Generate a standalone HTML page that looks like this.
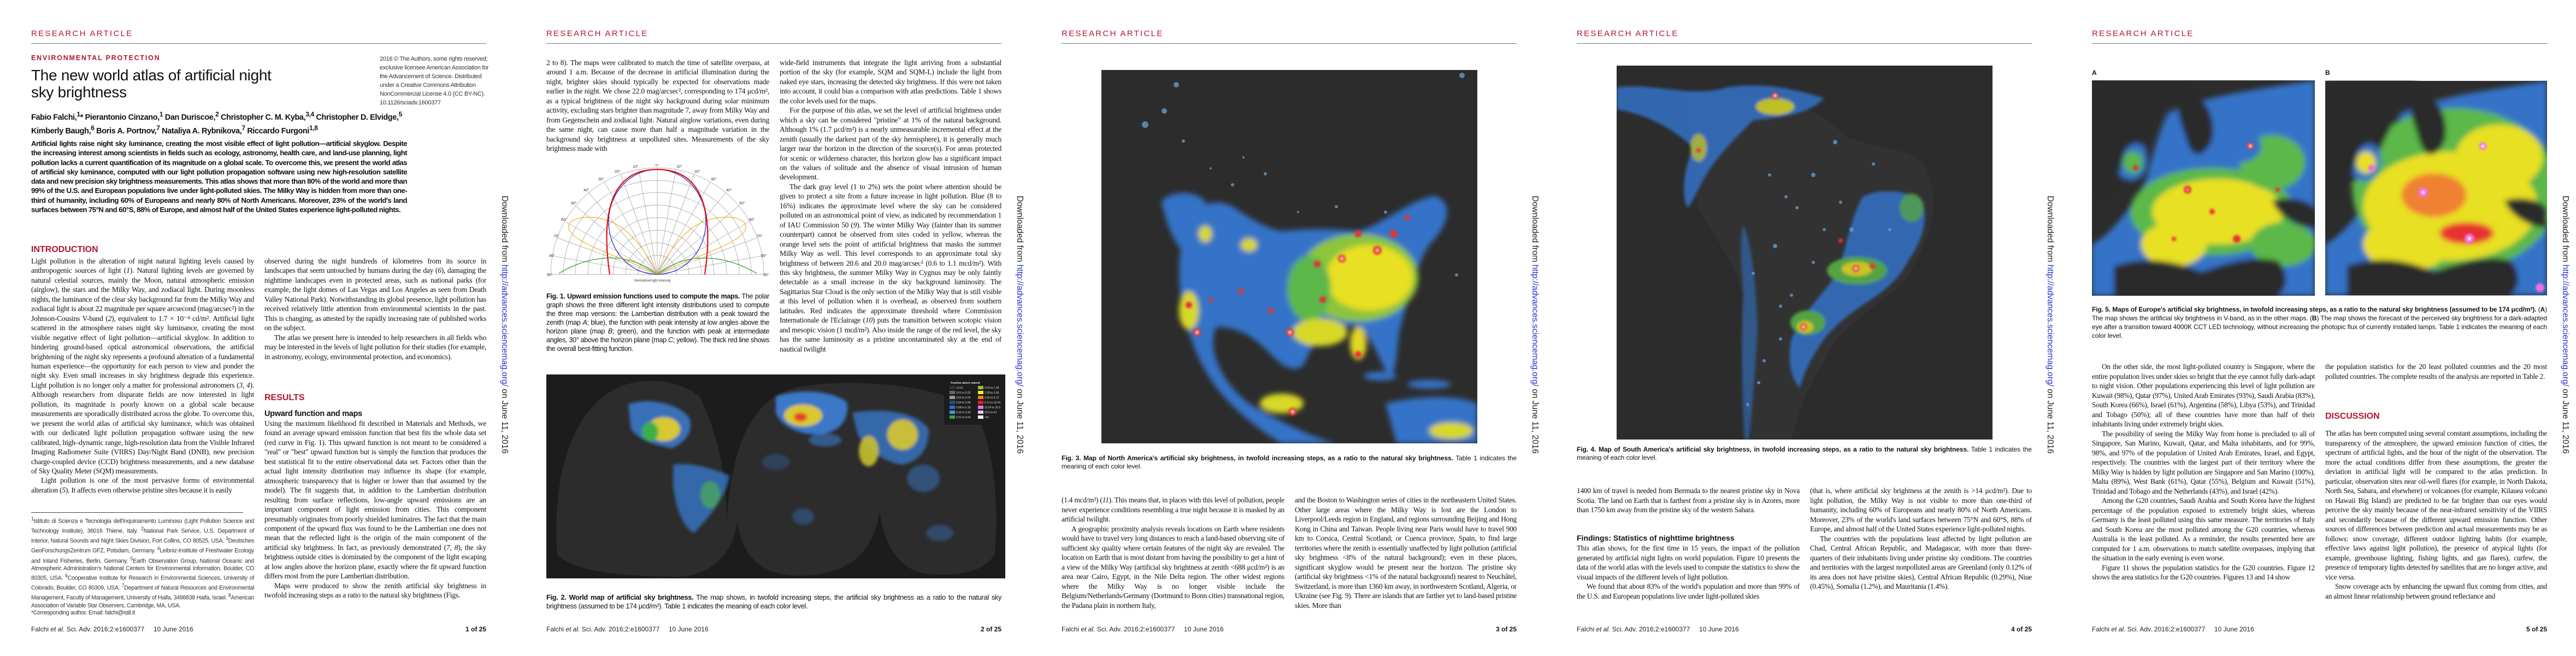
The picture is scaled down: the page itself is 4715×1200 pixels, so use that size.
<!DOCTYPE html>
<html><head><meta charset="utf-8">
<style>
*{margin:0;padding:0;box-sizing:border-box}
body{width:4715px;height:1200px;background:#fff;position:relative;overflow:hidden;font-family:"Liberation Serif",serif;color:#111}
.pg{position:absolute;top:0;width:943px;height:1200px;background:#fff;overflow:hidden}
.hdr{position:absolute;left:57px;top:53px;font:15px "Liberation Sans",sans-serif;letter-spacing:2.3px;color:#b3152f}
.rule{position:absolute;left:57px;top:79px;width:833px;height:1px;background:#777}
.foot{position:absolute;left:57px;top:1144px;font:12px "Liberation Sans",sans-serif;color:#222}
.pn{position:absolute;left:790px;width:100px;text-align:right;top:1144px;font:bold 12px "Liberation Sans",sans-serif}
.dl{position:absolute;left:914px;top:358px;writing-mode:vertical-rl;font:15.5px "Liberation Sans",sans-serif;color:#222;white-space:nowrap}
.dl span{color:#2233cc}
.col{position:absolute;overflow:hidden;text-align:justify;font-size:13.6px;line-height:17.45px;letter-spacing:-0.25px}
.col p{text-indent:0}
.col p+p{text-indent:18px}
.sec{color:#b3152f;font:bold 16px "Liberation Sans",sans-serif;position:absolute}
.cap{position:absolute;font:12px/15px "Liberation Sans",sans-serif;text-align:justify}
.cap b{font-weight:bold}
</style></head><body>

<!-- ================= PAGE 1 ================= -->
<div class="pg" style="left:0">
<div class="hdr">RESEARCH ARTICLE</div><div class="rule"></div>
<div style="position:absolute;left:57px;top:99px;font:bold 12.5px 'Liberation Sans',sans-serif;letter-spacing:1.8px;color:#b3152f">ENVIRONMENTAL PROTECTION</div>
<div style="position:absolute;left:57px;top:122px;font:28px/31px 'Liberation Sans',sans-serif;color:#111;letter-spacing:-0.3px">The new world atlas of artificial night<br>sky brightness</div>
<div style="position:absolute;left:695px;top:100px;font:11px/16px 'Liberation Sans',sans-serif;color:#333;letter-spacing:-0.3px">2016 © The Authors, some rights reserved;<br>exclusive licensee American Association for<br>the Advancement of Science. Distributed<br>under a Creative Commons Attribution<br>NonCommercial License 4.0 (CC BY-NC).<br>10.1126/sciadv.1600377</div>
<div style="position:absolute;left:57px;top:200px;width:780px;font:bold 14.5px/19px 'Liberation Sans',sans-serif;letter-spacing:-0.4px">Fabio Falchi,<sup>1</sup>* Pierantonio Cinzano,<sup>1</sup> Dan Duriscoe,<sup>2</sup> Christopher C. M. Kyba,<sup>3,4</sup> Christopher D. Elvidge,<sup>5</sup><br>Kimberly Baugh,<sup>6</sup> Boris A. Portnov,<sup>7</sup> Nataliya A. Rybnikova,<sup>7</sup> Riccardo Furgoni<sup>1,8</sup></div>
<div style="position:absolute;left:57px;top:254px;width:688px;font:bold 13.2px/17.3px 'Liberation Sans',sans-serif;letter-spacing:-0.55px;text-align:justify">Artificial lights raise night sky luminance, creating the most visible effect of light pollution—artificial skyglow. Despite the increasing interest among scientists in fields such as ecology, astronomy, health care, and land-use planning, light pollution lacks a current quantification of its magnitude on a global scale. To overcome this, we present the world atlas of artificial sky luminance, computed with our light pollution propagation software using new high-resolution satellite data and new precision sky brightness measurements. This atlas shows that more than 80% of the world and more than 99% of the U.S. and European populations live under light-polluted skies. The Milky Way is hidden from more than one-third of humanity, including 60% of Europeans and nearly 80% of North Americans. Moreover, 23% of the world's land surfaces between 75°N and 60°S, 88% of Europe, and almost half of the United States experience light-polluted nights.</div>
<div class="sec" style="left:57px;top:448px">INTRODUCTION</div>
<div class="col" style="left:57px;top:469px;width:408px;height:455px"><p>Light pollution is the alteration of night natural lighting levels caused by anthropogenic sources of light (<i>1</i>). Natural lighting levels are governed by natural celestial sources, mainly the Moon, natural atmospheric emission (airglow), the stars and the Milky Way, and zodiacal light. During moonless nights, the luminance of the clear sky background far from the Milky Way and zodiacal light is about 22 magnitude per square arcsecond (mag/arcsec²) in the Johnson-Cousins V-band (<i>2</i>), equivalent to 1.7 × 10⁻⁴ cd/m². Artificial light scattered in the atmosphere raises night sky luminance, creating the most visible negative effect of light pollution—artificial skyglow. In addition to hindering ground-based optical astronomical observations, the artificial brightening of the night sky represents a profound alteration of a fundamental human experience—the opportunity for each person to view and ponder the night sky. Even small increases in sky brightness degrade this experience. Light pollution is no longer only a matter for professional astronomers (<i>3</i>, <i>4</i>). Although researchers from disparate fields are now interested in light pollution, its magnitude is poorly known on a global scale because measurements are sporadically distributed across the globe. To overcome this, we present the world atlas of artificial sky luminance, which was obtained with our dedicated light pollution propagation software using the new calibrated, high–dynamic range, high-resolution data from the Visible Infrared Imaging Radiometer Suite (VIIRS) Day/Night Band (DNB), new precision charge-coupled device (CCD) brightness measurements, and a new database of Sky Quality Meter (SQM) measurements.</p><p>Light pollution is one of the most pervasive forms of environmental alteration (<i>5</i>). It affects even otherwise pristine sites because it is easily</p></div>
<div style="position:absolute;left:57px;top:937px;width:388px;height:1px;background:#444"></div>
<div style="position:absolute;left:57px;top:943px;width:408px;font:10.6px/13.6px 'Liberation Sans',sans-serif;color:#333;text-align:justify;letter-spacing:-0.3px"><sup>1</sup>Istituto di Scienza e Tecnologia dell'Inquinamento Luminoso (Light Pollution Science and Technology Institute), 36016 Thiene, Italy. <sup>2</sup>National Park Service, U.S. Department of Interior, Natural Sounds and Night Skies Division, Fort Collins, CO 80525, USA. <sup>3</sup>Deutsches GeoForschungsZentrum GFZ, Potsdam, Germany. <sup>4</sup>Leibniz-Institute of Freshwater Ecology and Inland Fisheries, Berlin, Germany. <sup>5</sup>Earth Observation Group, National Oceanic and Atmospheric Administration's National Centers for Environmental Information, Boulder, CO 80305, USA. <sup>6</sup>Cooperative Institute for Research in Environmental Sciences, University of Colorado, Boulder, CO 80309, USA. <sup>7</sup>Department of Natural Resources and Environmental Management, Faculty of Management, University of Haifa, 3498838 Haifa, Israel. <sup>8</sup>American Association of Variable Star Observers, Cambridge, MA, USA.<br>*Corresponding author. Email: falchi@istil.it</div>
<div class="col" style="left:484px;top:469px;width:406px;height:210px"><p>observed during the night hundreds of kilometres from its source in landscapes that seem untouched by humans during the day (<i>6</i>), damaging the nighttime landscapes even in protected areas, such as national parks (for example, the light domes of Las Vegas and Los Angeles as seen from Death Valley National Park). Notwithstanding its global presence, light pollution has received relatively little attention from environmental scientists in the past. This is changing, as attested by the rapidly increasing rate of published works on the subject.</p><p>The atlas we present here is intended to help researchers in all fields who may be interested in the levels of light pollution for their studies (for example, in astronomy, ecology, environmental protection, and economics).</p></div>
<div class="sec" style="left:484px;top:719px">RESULTS</div>
<div style="position:absolute;left:484px;top:749px;font:bold 14.5px 'Liberation Sans',sans-serif;letter-spacing:-0.3px">Upward function and maps</div>
<div class="col" style="left:484px;top:766px;width:406px;height:350px"><p>Using the maximum likelihood fit described in Materials and Methods, we found an average upward emission function that best fits the whole data set (red curve in Fig. 1). This upward function is not meant to be considered a "real" or "best" upward function but is simply the function that produces the best statistical fit to the entire observational data set. Factors other than the actual light intensity distribution may influence its shape (for example, atmospheric transparency that is higher or lower than that assumed by the model). The fit suggests that, in addition to the Lambertian distribution resulting from surface reflections, low-angle upward emissions are an important component of light emission from cities. This component presumably originates from poorly shielded luminaires. The fact that the main component of the upward flux was found to be the Lambertian one does not mean that the reflected light is the origin of the main component of the artificial sky brightness. In fact, as previously demonstrated (<i>7</i>, <i>8</i>), the sky brightness outside cities is dominated by the component of the light escaping at low angles above the horizon plane, exactly where the fit upward function differs most from the pure Lambertian distribution.</p><p>Maps were produced to show the zenith artificial sky brightness in twofold increasing steps as a ratio to the natural sky brightness (Figs.</p></div>
<div class="foot">Falchi <i>et al.</i> Sci. Adv. 2016;2:e1600377 &nbsp;&nbsp;&nbsp;&nbsp;10 June 2016</div><div class="pn">1 of 25</div>
<div class="dl">Downloaded from <span>http://advances.sciencemag.org/</span> on June 11, 2016</div>
</div>

<!-- ================= PAGE 2 ================= -->
<div class="pg" style="left:943px">
<div class="hdr">RESEARCH ARTICLE</div><div class="rule"></div>
<div class="col" style="left:57px;top:106px;width:408px;height:175px"><p>2 to 8). The maps were calibrated to match the time of satellite overpass, at around 1 a.m. Because of the decrease in artificial illumination during the night, brighter skies should typically be expected for observations made earlier in the night. We chose 22.0 mag/arcsec², corresponding to 174 μcd/m², as a typical brightness of the night sky background during solar minimum activity, excluding stars brighter than magnitude 7, away from Milky Way and from Gegenschein and zodiacal light. Natural airglow variations, even during the same night, can cause more than half a magnitude variation in the background sky brightness at unpolluted sites. Measurements of the sky brightness made with</p></div>
<svg style="position:absolute;left:50px;top:300px" width="420" height="225" viewBox="50 300 420 225">
<g fill="none" stroke="#999" stroke-width="0.7">
<path d="M65,502 A195,195 0 0 1 455,502"/><path d="M88,502 A172,172 0 0 1 432,502"/><path d="M110,502 A150,150 0 0 1 410,502"/><path d="M133,502 A127,127 0 0 1 387,502"/><path d="M156,502 A104,104 0 0 1 364,502"/><path d="M179,502 A81,81 0 0 1 341,502"/><path d="M202,502 A58,58 0 0 1 318,502"/><path d="M225,502 A35,35 0 0 1 295,502"/>
<line x1="65" y1="502" x2="455" y2="502"/>
<g><line x1="260" y1="502" x2="260" y2="307"/><line x1="260" y1="502" x2="226" y2="310"/><line x1="260" y1="502" x2="193" y2="319"/><line x1="260" y1="502" x2="163" y2="333"/><line x1="260" y1="502" x2="135" y2="353"/><line x1="260" y1="502" x2="111" y2="377"/><line x1="260" y1="502" x2="91" y2="405"/><line x1="260" y1="502" x2="77" y2="435"/><line x1="260" y1="502" x2="68" y2="468"/><line x1="260" y1="502" x2="294" y2="310"/><line x1="260" y1="502" x2="327" y2="319"/><line x1="260" y1="502" x2="357" y2="333"/><line x1="260" y1="502" x2="385" y2="353"/><line x1="260" y1="502" x2="409" y2="377"/><line x1="260" y1="502" x2="429" y2="405"/><line x1="260" y1="502" x2="443" y2="435"/><line x1="260" y1="502" x2="452" y2="468"/></g>
</g>
<g font-family="Liberation Sans" font-size="7" fill="#333"><text x="257" y="304">0°</text><text x="215" y="307">10°</text><text x="295" y="307">10°</text><text x="182" y="316">20°</text><text x="328" y="316">20°</text><text x="152" y="330">30°</text><text x="358" y="330">30°</text><text x="125" y="350">40°</text><text x="386" y="350">40°</text><text x="102" y="374">50°</text><text x="410" y="374">50°</text><text x="84" y="404">60°</text><text x="428" y="404">60°</text><text x="70" y="434">70°</text><text x="442" y="434">70°</text><text x="62" y="470">80°</text><text x="450" y="470">80°</text><text x="58" y="505">90°</text><text x="454" y="505">90°</text><text x="218" y="515" font-size="6">Normalized light intensity</text></g>
<path d="M80,500 C130,470 200,455 260,502 C320,455 390,470 442,500" fill="none" stroke="#2aa02a" stroke-width="1.2"/>
<path d="M260,502 C200,470 80,440 100,408 C115,390 170,395 200,420 C230,445 250,480 260,502 C270,480 290,445 320,420 C350,395 405,390 420,408 C440,440 320,470 260,502" fill="none" stroke="#f0b020" stroke-width="1.2"/>
<ellipse cx="260" cy="406" rx="89" ry="96" fill="none" stroke="#1a1acc" stroke-width="1.2"/>
<path d="M173,502 C158,400 170,310 260,310 C350,310 362,400 347,502" fill="none" stroke="#e01010" stroke-width="2.2"/>
</svg>
<div class="cap" style="left:57px;top:534px;width:408px;font-size:12.6px;line-height:16px;letter-spacing:-0.35px"><b>Fig. 1. Upward emission functions used to compute the maps.</b> The polar graph shows the three different light intensity distributions used to compute the three map versions: the Lambertian distribution with a peak toward the zenith (map <i>A</i>; blue), the function with peak intensity at low angles above the horizon plane (map <i>B</i>; green), and the function with peak at intermediate angles, 30° above the horizon plane (map <i>C</i>; yellow). The thick red line shows the overall best-fitting function.</div>
<div class="col" style="left:484px;top:106px;width:406px;height:540px"><p>wide-field instruments that integrate the light arriving from a substantial portion of the sky (for example, SQM and SQM-L) include the light from naked eye stars, increasing the detected sky brightness. If this were not taken into account, it could bias a comparison with atlas predictions. Table 1 shows the color levels used for the maps.</p><p>For the purpose of this atlas, we set the level of artificial brightness under which a sky can be considered "pristine" at 1% of the natural background. Although 1% (1.7 μcd/m²) is a nearly unmeasurable incremental effect at the zenith (usually the darkest part of the sky hemisphere), it is generally much larger near the horizon in the direction of the source(s). For areas protected for scenic or wilderness character, this horizon glow has a significant impact on the values of solitude and the absence of visual intrusion of human development.</p><p>The dark gray level (1 to 2%) sets the point where attention should be given to protect a site from a future increase in light pollution. Blue (8 to 16%) indicates the approximate level where the sky can be considered polluted on an astronomical point of view, as indicated by recommendation 1 of IAU Commission 50 (<i>9</i>). The winter Milky Way (fainter than its summer counterpart) cannot be observed from sites coded in yellow, whereas the orange level sets the point of artificial brightness that masks the summer Milky Way as well. This level corresponds to an approximate total sky brightness of between 20.6 and 20.0 mag/arcsec² (0.6 to 1.1 mcd/m²). With this sky brightness, the summer Milky Way in Cygnus may be only faintly detectable as a small increase in the sky background luminosity. The Sagittarius Star Cloud is the only section of the Milky Way that is still visible at this level of pollution when it is overhead, as observed from southern latitudes. Red indicates the approximate threshold where Commission Internationale de l'Eclairage (<i>10</i>) puts the transition between scotopic vision and mesopic vision (1 mcd/m²). Also inside the range of the red level, the sky has the same luminosity as a pristine uncontaminated sky at the end of nautical twilight</p></div>
<svg style="position:absolute;left:57px;top:685px" width="840" height="373" viewBox="0 0 840 373">
<defs><filter id="b2" x="-20%" y="-20%" width="140%" height="140%"><feGaussianBlur stdDeviation="3"/></filter></defs>
<rect width="840" height="373" fill="#1c1c1c"/>
<path d="M20,330 C10,200 40,60 140,20 C190,5 240,10 280,40 C320,120 330,200 330,270 C340,120 380,30 480,20 C560,10 700,15 780,60 C820,120 830,250 820,330 C800,360 760,370 700,365 C650,360 620,320 610,250 C600,320 560,365 470,368 C400,370 360,340 350,270 C340,330 300,372 230,370 C150,368 60,365 20,330 Z" fill="#2c2c2c"/>
<g filter="url(#b2)">
<path d="M150,55 C190,40 245,55 262,80 C270,110 250,125 230,135 C200,130 170,120 155,100 Z" fill="#3a78c8" opacity="0.9"/>
<ellipse cx="215" cy="100" rx="30" ry="22" fill="#d8c830"/>
<ellipse cx="190" cy="105" rx="15" ry="18" fill="#3cae4c"/>
<path d="M232,165 C260,160 300,170 335,185 C330,220 300,260 270,290 C250,280 235,240 232,200 Z" fill="#3a78c8" opacity="0.8"/>
<ellipse cx="300" cy="220" rx="18" ry="25" fill="#4caf50" opacity="0.7"/>
<path d="M420,40 C470,25 520,30 550,50 C555,80 540,105 500,110 C460,110 430,95 420,70 Z" fill="#3a78c8"/>
<ellipse cx="470" cy="75" rx="35" ry="20" fill="#d8c830"/>
<ellipse cx="465" cy="78" rx="12" ry="8" fill="#e84020"/>
<path d="M560,70 C620,60 680,70 700,100 C700,140 680,160 650,165 C620,160 590,140 570,110 Z" fill="#3a78c8" opacity="0.8"/>
<ellipse cx="652" cy="110" rx="28" ry="28" fill="#d8c830" opacity="0.9"/>
<ellipse cx="590" cy="140" rx="18" ry="28" fill="#c8c030" opacity="0.9"/>
<ellipse cx="510" cy="120" rx="30" ry="12" fill="#3a78c8" opacity="0.6"/>
<ellipse cx="690" cy="190" rx="30" ry="25" fill="#3a78c8" opacity="0.5"/>
<ellipse cx="720" cy="290" rx="25" ry="15" fill="#3a78c8" opacity="0.4"/>
<ellipse cx="470" cy="260" rx="20" ry="15" fill="#3a78c8" opacity="0.4"/>
<ellipse cx="420" cy="160" rx="25" ry="15" fill="#3a78c8" opacity="0.3"/>
</g>
<rect x="728" y="10" width="110" height="82" fill="#1c1c1c"/>
<g font-family="Liberation Sans" font-size="5" fill="#ddd"><text x="740" y="17" font-weight="bold">Fraction above natural</text>
<rect x="738" y="21" width="10" height="6" fill="#333"/><rect x="738" y="30" width="10" height="6" fill="#666"/><rect x="738" y="39" width="10" height="6" fill="#999"/><rect x="738" y="48" width="10" height="6" fill="#2a4f8a"/><rect x="738" y="57" width="10" height="6" fill="#2f6fd0"/><rect x="738" y="66" width="10" height="6" fill="#28a0e8"/><rect x="738" y="75" width="10" height="6" fill="#3fa040"/>
<rect x="790" y="21" width="10" height="6" fill="#a8b830"/><rect x="790" y="30" width="10" height="6" fill="#f0f020"/><rect x="790" y="39" width="10" height="6" fill="#f08030"/><rect x="790" y="48" width="10" height="6" fill="#e82020"/><rect x="790" y="57" width="10" height="6" fill="#f070f0"/><rect x="790" y="66" width="10" height="6" fill="#f0c0f0"/><rect x="790" y="75" width="10" height="6" fill="#fff"/>
<text x="750" y="26">&lt;0.01</text><text x="750" y="35">0.01 to 0.02</text><text x="750" y="44">0.02 to 0.04</text><text x="750" y="53">0.04 to 0.08</text><text x="750" y="62">0.08 to 0.16</text><text x="750" y="71">0.16 to 0.32</text><text x="750" y="80">0.32 to 0.64</text>
<text x="802" y="26">0.64 to 1.28</text><text x="802" y="35">1.28 to 2.56</text><text x="802" y="44">2.56 to 5.12</text><text x="802" y="53">5.12 to 10.24</text><text x="802" y="62">10.24 to 20.5</text><text x="802" y="71">20.5 to 41</text><text x="802" y="80">&gt;41</text></g>
</svg>
<div class="cap" style="left:57px;top:1085px;width:833px;font-size:12.8px;line-height:16px;letter-spacing:-0.35px"><b>Fig. 2. World map of artificial sky brightness.</b> The map shows, in twofold increasing steps, the artificial sky brightness as a ratio to the natural sky brightness (assumed to be 174 μcd/m²). Table 1 indicates the meaning of each color level.</div>
<div class="foot">Falchi <i>et al.</i> Sci. Adv. 2016;2:e1600377 &nbsp;&nbsp;&nbsp;&nbsp;10 June 2016</div><div class="pn">2 of 25</div>
<div class="dl">Downloaded from <span>http://advances.sciencemag.org/</span> on June 11, 2016</div>
</div>

<!-- ================= PAGE 3 ================= -->
<div class="pg" style="left:1886px">
<div class="hdr">RESEARCH ARTICLE</div><div class="rule"></div>
<svg style="position:absolute;left:130px;top:128px" width="688" height="683" viewBox="0 0 688 683">
<defs><filter id="b3" x="-20%" y="-20%" width="140%" height="140%"><feGaussianBlur stdDeviation="5"/></filter><filter id="b3s"><feGaussianBlur stdDeviation="2"/></filter></defs>
<rect width="688" height="683" fill="#2c2c2c"/>
<g fill="#6fa8d8" opacity="0.7"><circle cx="137" cy="27" r="5"/><circle cx="115" cy="75" r="5"/><circle cx="80" cy="100" r="6"/><circle cx="150" cy="130" r="3"/><circle cx="240" cy="210" r="3"/><circle cx="300" cy="190" r="3"/><circle cx="360" cy="260" r="2"/><circle cx="430" cy="250" r="3"/><circle cx="520" cy="260" r="3"/><circle cx="600" cy="245" r="3"/><circle cx="650" cy="375" r="3"/><circle cx="660" cy="10" r="5"/><circle cx="200" cy="180" r="2"/><circle cx="260" cy="160" r="2"/></g>
<g filter="url(#b3)">
<path d="M150,300 C170,250 200,230 240,250 C270,270 300,290 330,295 C380,290 420,290 470,295 C520,280 560,240 610,230 C650,245 630,290 600,320 C575,360 560,420 545,480 C540,520 540,560 525,560 C505,520 490,480 470,470 C420,460 390,490 370,540 C345,560 320,530 300,510 C270,480 240,470 210,470 C190,520 230,580 270,610 C320,640 380,670 430,683 L330,683 C290,660 240,620 210,580 C180,540 160,490 150,440 C140,400 140,340 150,300 Z" fill="#3573c8"/>
<path d="M110,240 C130,220 170,220 190,240 C200,280 180,320 160,340 C140,330 120,290 110,240 Z" fill="#3573c8"/>
<path d="M520,610 C560,600 640,590 688,610 L688,683 L540,683 Z" fill="#3573c8"/>
<ellipse cx="600" cy="575" rx="40" ry="8" fill="#3573c8"/><ellipse cx="510" cy="560" rx="30" ry="8" fill="#3573c8"/>
<ellipse cx="470" cy="380" rx="110" ry="80" fill="#8cc43a"/>
<ellipse cx="490" cy="380" rx="80" ry="60" fill="#e8e020"/>
<ellipse cx="380" cy="400" rx="40" ry="60" fill="#5cb848"/>
<ellipse cx="400" cy="480" rx="50" ry="25" fill="#d8d828"/>
<ellipse cx="470" cy="500" rx="15" ry="30" fill="#e0d828"/>
<ellipse cx="160" cy="440" rx="18" ry="35" fill="#d8d828"/>
<ellipse cx="190" cy="300" rx="12" ry="15" fill="#d8d828"/>
<ellipse cx="270" cy="320" rx="15" ry="12" fill="#d8d828"/>
<ellipse cx="330" cy="610" rx="40" ry="18" fill="#d8d828"/>
<ellipse cx="640" cy="660" rx="40" ry="15" fill="#d8d828"/>
</g>
<g filter="url(#b3s)" fill="#e83030"><circle cx="505" cy="330" r="8"/><circle cx="535" cy="300" r="7"/><circle cx="440" cy="345" r="7"/><circle cx="395" cy="355" r="6"/><circle cx="345" cy="480" r="7"/><circle cx="470" cy="520" r="6"/><circle cx="160" cy="430" r="6"/><circle cx="175" cy="480" r="7"/><circle cx="405" cy="420" r="6"/><circle cx="560" cy="270" r="5"/><circle cx="470" cy="300" r="6"/><circle cx="350" cy="625" r="7"/><circle cx="310" cy="440" r="5"/><circle cx="255" cy="405" r="5"/><circle cx="200" cy="420" r="4"/></g>
<g fill="#fff" filter="url(#b3s)"><circle cx="505" cy="330" r="3"/><circle cx="440" cy="345" r="3"/><circle cx="175" cy="480" r="3"/><circle cx="345" cy="480" r="3"/><circle cx="350" cy="625" r="3"/></g>
</svg>
<div class="cap" style="left:57px;top:831px;width:833px;letter-spacing:-0.1px"><b>Fig. 3. Map of North America's artificial sky brightness, in twofold increasing steps, as a ratio to the natural sky brightness.</b> Table 1 indicates the meaning of each color level.</div>
<div class="col" style="left:57px;top:906px;width:408px;height:210px;font-size:13.4px;line-height:17.5px"><p>(1.4 mcd/m²) (<i>11</i>). This means that, in places with this level of pollution, people never experience conditions resembling a true night because it is masked by an artificial twilight.</p><p>A geographic proximity analysis reveals locations on Earth where residents would have to travel very long distances to reach a land-based observing site of sufficient sky quality where certain features of the night sky are revealed. The location on Earth that is most distant from having the possibility to get a hint of a view of the Milky Way (artificial sky brightness at zenith &lt;688 μcd/m²) is an area near Cairo, Egypt, in the Nile Delta region. The other widest regions where the Milky Way is no longer visible include the Belgium/Netherlands/Germany (Dortmund to Bonn cities) transnational region, the Padana plain in northern Italy,</p></div>
<div class="col" style="left:484px;top:906px;width:406px;height:210px;font-size:13.4px;line-height:17.5px"><p>and the Boston to Washington series of cities in the northeastern United States. Other large areas where the Milky Way is lost are the London to Liverpool/Leeds region in England, and regions surrounding Beijing and Hong Kong in China and Taiwan. People living near Paris would have to travel 900 km to Corsica, Central Scotland, or Cuenca province, Spain, to find large territories where the zenith is essentially unaffected by light pollution (artificial sky brightness &lt;8% of the natural background); even in these places, significant skyglow would be present near the horizon. The pristine sky (artificial sky brightness &lt;1% of the natural background) nearest to Neuchâtel, Switzerland, is more than 1360 km away, in northwestern Scotland, Algeria, or Ukraine (see Fig. 9). There are islands that are farther yet to land-based pristine skies. More than</p></div>
<div class="foot">Falchi <i>et al.</i> Sci. Adv. 2016;2:e1600377 &nbsp;&nbsp;&nbsp;&nbsp;10 June 2016</div><div class="pn">3 of 25</div>
<div class="dl">Downloaded from <span>http://advances.sciencemag.org/</span> on June 11, 2016</div>
</div>

<!-- ================= PAGE 4 ================= -->
<div class="pg" style="left:2829px">
<div class="hdr">RESEARCH ARTICLE</div><div class="rule"></div>
<svg style="position:absolute;left:130px;top:120px" width="688" height="684" viewBox="0 0 688 684">
<defs><filter id="b4" x="-20%" y="-20%" width="140%" height="140%"><feGaussianBlur stdDeviation="3"/></filter><filter id="b4s"><feGaussianBlur stdDeviation="2"/></filter></defs>
<rect width="688" height="684" fill="#2c2c2c"/>
<path d="M130,50 C250,40 350,60 420,130 C500,160 560,150 570,200 C600,260 560,340 530,390 C480,440 420,470 390,520 C370,560 340,600 320,684 L250,684 C230,600 225,500 230,420 C220,360 180,320 150,260 C130,200 140,120 130,50 Z" fill="#323232"/>
<g filter="url(#b4)" opacity="0.85">
<path d="M0,40 C60,30 140,60 200,40 C260,30 320,40 380,60 C350,90 300,95 250,100 C220,130 190,160 170,190 C150,220 140,250 130,260 C118,240 122,190 140,150 C110,120 60,90 0,80 Z" fill="#3573c8"/>
<ellipse cx="290" cy="75" rx="35" ry="15" fill="#d8d828"/><ellipse cx="150" cy="150" rx="15" ry="25" fill="#d8d828" opacity="0.8"/>
<path d="M450,240 C480,225 530,225 560,250 C572,290 555,325 535,355 C515,395 485,415 455,435 C425,455 400,475 380,500 C362,525 345,555 335,590 C318,570 312,535 320,500 C338,455 372,425 400,385 C420,345 425,285 450,240 Z" fill="#3573c8"/>
<ellipse cx="440" cy="375" rx="55" ry="25" fill="#5cb848"/>
<ellipse cx="440" cy="372" rx="28" ry="13" fill="#e8e020"/>
<ellipse cx="350" cy="470" rx="32" ry="22" fill="#5cb848"/>
<ellipse cx="345" cy="478" rx="15" ry="11" fill="#e8e020"/>
<path d="M232,290 C248,330 255,400 258,480 C255,550 248,620 243,684 L234,684 C228,600 228,500 232,420 C228,360 224,320 232,290 Z" fill="#3573c8" opacity="0.7"/>
<ellipse cx="540" cy="260" rx="22" ry="26" fill="#5cb848" opacity="0.8"/>
</g>
<g fill="#5f9ad6" opacity="0.8"><circle cx="400" cy="140" r="4"/><circle cx="360" cy="200" r="4"/><circle cx="310" cy="240" r="3"/><circle cx="470" cy="180" r="3"/><circle cx="430" cy="300" r="4"/><circle cx="300" cy="500" r="3"/><circle cx="320" cy="420" r="3"/><circle cx="260" cy="580" r="3"/><circle cx="280" cy="200" r="3"/><circle cx="330" cy="260" r="3"/><circle cx="380" cy="300" r="3"/><circle cx="290" cy="330" r="4"/><circle cx="250" cy="380" r="3"/><circle cx="360" cy="360" r="3"/><circle cx="300" cy="440" r="3"/><circle cx="270" cy="540" r="3"/><circle cx="240" cy="620" r="3"/><circle cx="500" cy="300" r="3"/><circle cx="410" cy="250" r="3"/></g>
<g filter="url(#b4s)" fill="#e83030"><circle cx="438" cy="371" r="6"/><circle cx="468" cy="367" r="5"/><circle cx="342" cy="478" r="6"/><circle cx="290" cy="55" r="6"/><circle cx="150" cy="155" r="4"/><circle cx="410" cy="320" r="4"/></g>
<g fill="#fff" filter="url(#b4s)"><circle cx="438" cy="371" r="3"/><circle cx="342" cy="478" r="3"/><circle cx="290" cy="55" r="3"/></g>
</svg>
<div class="cap" style="left:57px;top:815px;width:833px;letter-spacing:-0.1px"><b>Fig. 4. Map of South America's artificial sky brightness, in twofold increasing steps, as a ratio to the natural sky brightness.</b> Table 1 indicates the meaning of each color level.</div>
<div class="col" style="left:57px;top:889px;width:408px;height:72px;font-size:13.4px;line-height:17.5px"><p>1400 km of travel is needed from Bermuda to the nearest pristine sky in Nova Scotia. The land on Earth that is farthest from a pristine sky is in Azores, more than 1750 km away from the pristine sky of the western Sahara.</p></div>
<div style="position:absolute;left:57px;top:976px;font:bold 14px 'Liberation Sans',sans-serif">Findings: Statistics of nighttime brightness</div>
<div class="col" style="left:57px;top:994px;width:408px;height:122px;font-size:13.4px;line-height:17.5px"><p>This atlas shows, for the first time in 15 years, the impact of the pollution generated by artificial night lights on world population. Figure 10 presents the data of the world atlas with the levels used to compute the statistics to show the visual impacts of the different levels of light pollution.</p><p>We found that about 83% of the world's population and more than 99% of the U.S. and European populations live under light-polluted skies</p></div>
<div class="col" style="left:484px;top:889px;width:406px;height:227px;font-size:13.4px;line-height:17.5px"><p>(that is, where artificial sky brightness at the zenith is &gt;14 μcd/m²). Due to light pollution, the Milky Way is not visible to more than one-third of humanity, including 60% of Europeans and nearly 80% of North Americans. Moreover, 23% of the world's land surfaces between 75°N and 60°S, 88% of Europe, and almost half of the United States experience light-polluted nights.</p><p>The countries with the populations least affected by light pollution are Chad, Central African Republic, and Madagascar, with more than three-quarters of their inhabitants living under pristine sky conditions. The countries and territories with the largest nonpolluted areas are Greenland (only 0.12% of its area does not have pristine skies), Central African Republic (0.29%), Niue (0.45%), Somalia (1.2%), and Mauritania (1.4%).</p></div>
<div class="foot">Falchi <i>et al.</i> Sci. Adv. 2016;2:e1600377 &nbsp;&nbsp;&nbsp;&nbsp;10 June 2016</div><div class="pn">4 of 25</div>
<div class="dl">Downloaded from <span>http://advances.sciencemag.org/</span> on June 11, 2016</div>
</div>

<!-- ================= PAGE 5 ================= -->
<div class="pg" style="left:3772px">
<div class="hdr">RESEARCH ARTICLE</div><div class="rule"></div>
<div style="position:absolute;left:57px;top:126px;font:bold 12px 'Liberation Sans',sans-serif">A</div>
<div style="position:absolute;left:484px;top:126px;font:bold 12px 'Liberation Sans',sans-serif">B</div>
<svg style="position:absolute;left:57px;top:147px" width="408" height="394" viewBox="0 0 408 394">
<defs><filter id="b5" x="-20%" y="-20%" width="140%" height="140%"><feGaussianBlur stdDeviation="5"/></filter><filter id="b5s"><feGaussianBlur stdDeviation="2"/></filter></defs>
<rect width="408" height="394" fill="#2c2c2c"/>
<g filter="url(#b5)">
<path d="M140,60 C200,30 280,20 408,0 L408,394 L0,394 L0,300 C40,280 80,220 100,180 C110,140 120,100 140,60 Z" fill="#3573c8"/>
<ellipse cx="220" cy="240" rx="150" ry="80" fill="#5cb848"/>
<ellipse cx="230" cy="240" rx="120" ry="60" fill="#e8e020"/>
<ellipse cx="150" cy="300" rx="60" ry="40" fill="#e8e020"/>
<ellipse cx="330" cy="150" rx="60" ry="50" fill="#5cb848"/>
<ellipse cx="350" cy="300" rx="60" ry="40" fill="#5cb848"/>
<ellipse cx="270" cy="120" rx="40" ry="30" fill="#3573c8"/>
<path d="M0,0 L170,0 C150,40 120,80 100,130 C80,170 40,200 0,220 Z" fill="#2c2c2c"/>
<path d="M160,10 C200,20 230,60 220,110 C200,150 180,140 170,100 C160,70 150,40 160,10 Z" fill="#2c2c2c"/>
<path d="M40,340 C100,320 150,330 200,350 C260,330 300,320 340,330 C360,350 360,380 340,394 L40,394 Z" fill="#2c2c2c"/>
<path d="M330,220 C360,210 408,220 408,240 L408,270 C380,270 340,250 330,220 Z" fill="#2c2c2c"/>
<path d="M60,130 C80,100 110,120 100,160 C90,190 60,190 50,170 Z" fill="#3573c8"/>
<ellipse cx="75" cy="150" rx="18" ry="20" fill="#5cb848"/>
</g>
<g filter="url(#b5s)" fill="#e83030"><circle cx="175" cy="200" r="7"/><circle cx="265" cy="290" r="7"/><circle cx="220" cy="240" r="5"/><circle cx="290" cy="120" r="6"/><circle cx="80" cy="160" r="5"/><circle cx="340" cy="200" r="4"/><circle cx="150" cy="290" r="4"/></g>
<g fill="#fff" filter="url(#b5s)"><circle cx="175" cy="200" r="2"/><circle cx="290" cy="120" r="3"/></g>
</svg>
<svg style="position:absolute;left:484px;top:147px" width="406" height="394" viewBox="0 0 408 394">
<rect width="408" height="394" fill="#2c2c2c"/>
<g filter="url(#b5)">
<path d="M140,60 C200,30 280,20 408,0 L408,394 L0,394 L0,300 C40,280 80,220 100,180 C110,140 120,100 140,60 Z" fill="#3573c8"/>
<ellipse cx="240" cy="200" rx="190" ry="150" fill="#5cb848"/>
<ellipse cx="230" cy="230" rx="160" ry="100" fill="#e8e020"/>
<ellipse cx="150" cy="300" rx="80" ry="50" fill="#e8e020"/>
<ellipse cx="320" cy="140" rx="80" ry="60" fill="#e8e020"/>
<ellipse cx="200" cy="210" rx="60" ry="40" fill="#f08030"/>
<ellipse cx="260" cy="280" rx="50" ry="20" fill="#e83030"/>
<path d="M0,0 L170,0 C150,40 120,80 100,130 C80,170 40,200 0,220 Z" fill="#2c2c2c"/>
<path d="M160,10 C200,20 230,60 220,110 C200,150 180,140 170,100 C160,70 150,40 160,10 Z" fill="#2c2c2c"/>
<path d="M40,340 C100,320 150,330 200,350 C260,330 300,320 340,330 C360,350 360,380 340,394 L40,394 Z" fill="#2c2c2c"/>
<path d="M330,220 C360,210 408,220 408,240 L408,270 C380,270 340,250 330,220 Z" fill="#2c2c2c"/>
<path d="M60,130 C80,100 110,120 100,160 C90,190 60,190 50,170 Z" fill="#3573c8"/>
<ellipse cx="75" cy="150" rx="18" ry="20" fill="#e8e020"/>
</g>
<g filter="url(#b5s)" fill="#f070e0"><circle cx="180" cy="205" r="9"/><circle cx="265" cy="290" r="9"/><circle cx="290" cy="120" r="7"/><circle cx="85" cy="160" r="6"/><circle cx="395" cy="380" r="8"/></g>
<g fill="#fff" filter="url(#b5s)"><circle cx="180" cy="205" r="3"/><circle cx="290" cy="120" r="3"/><circle cx="265" cy="290" r="3"/></g>
</svg>
<div class="cap" style="left:57px;top:558px;width:833px;letter-spacing:-0.1px;line-height:16px"><b>Fig. 5. Maps of Europe's artificial sky brightness, in twofold increasing steps, as a ratio to the natural sky brightness (assumed to be 174 μcd/m²).</b> (<b>A</b>) The map shows the artificial sky brightness in V-band, as in the other maps. (<b>B</b>) The map shows the forecast of the perceived sky brightness for a dark-adapted eye after a transition toward 4000K CCT LED technology, without increasing the photopic flux of currently installed lamps. Table 1 indicates the meaning of each color level.</div>
<div class="col" style="left:57px;top:662px;width:408px;height:454px;font-size:13.4px;line-height:17.5px"><p style="text-indent:18px">On the other side, the most light-polluted country is Singapore, where the entire population lives under skies so bright that the eye cannot fully dark-adapt to night vision. Other populations experiencing this level of light pollution are Kuwait (98%), Qatar (97%), United Arab Emirates (93%), Saudi Arabia (83%), South Korea (66%), Israel (61%), Argentina (58%), Libya (53%), and Trinidad and Tobago (50%); all of these countries have more than half of their inhabitants living under extremely bright skies.</p><p>The possibility of seeing the Milky Way from home is precluded to all of Singapore, San Marino, Kuwait, Qatar, and Malta inhabitants, and for 99%, 98%, and 97% of the population of United Arab Emirates, Israel, and Egypt, respectively. The countries with the largest part of their territory where the Milky Way is hidden by light pollution are Singapore and San Marino (100%), Malta (89%), West Bank (61%), Qatar (55%), Belgium and Kuwait (51%), Trinidad and Tobago and the Netherlands (43%), and Israel (42%).</p><p>Among the G20 countries, Saudi Arabia and South Korea have the highest percentage of the population exposed to extremely bright skies, whereas Germany is the least polluted using this same measure. The territories of Italy and South Korea are the most polluted among the G20 countries, whereas Australia is the least polluted. As a reminder, the results presented here are computed for 1 a.m. observations to match satellite overpasses, implying that the situation in the early evening is even worse.</p><p>Figure 11 shows the population statistics for the G20 countries. Figure 12 shows the area statistics for the G20 countries. Figures 13 and 14 show</p></div>
<div class="col" style="left:484px;top:662px;width:406px;height:55px;font-size:13.4px;line-height:17.5px"><p>the population statistics for the 20 least polluted countries and the 20 most polluted countries. The complete results of the analysis are reported in Table 2.</p></div>
<div class="sec" style="left:484px;top:753px">DISCUSSION</div>
<div class="col" style="left:484px;top:784px;width:406px;height:332px;font-size:13.4px;line-height:17.5px"><p>The atlas has been computed using several constant assumptions, including the transparency of the atmosphere, the upward emission function of cities, the spectrum of artificial lights, and the hour of the night of the observation. The more the actual conditions differ from these assumptions, the greater the deviation in artificial light will be compared to the atlas prediction. In particular, observation sites near oil-well flares (for example, in North Dakota, North Sea, Sahara, and elsewhere) or volcanoes (for example, Kilauea volcano on Hawaii Big Island) are predicted to be far brighter than our eyes would perceive the sky mainly because of the near-infrared sensitivity of the VIIRS and secondarily because of the different upward emission function. Other sources of differences between prediction and actual measurements may be as follows: snow coverage, different outdoor lighting habits (for example, effective laws against light pollution), the presence of atypical lights (for example, greenhouse lighting, fishing lights, and gas flares), curfew, the presence of temporary lights detected by satellites that are no longer active, and vice versa.</p><p>Snow coverage acts by enhancing the upward flux coming from cities, and an almost linear relationship between ground reflectance and</p></div>
<div class="foot">Falchi <i>et al.</i> Sci. Adv. 2016;2:e1600377 &nbsp;&nbsp;&nbsp;&nbsp;10 June 2016</div><div class="pn">5 of 25</div>
<div class="dl">Downloaded from <span>http://advances.sciencemag.org/</span> on June 11, 2016</div>
</div>
</body></html>
